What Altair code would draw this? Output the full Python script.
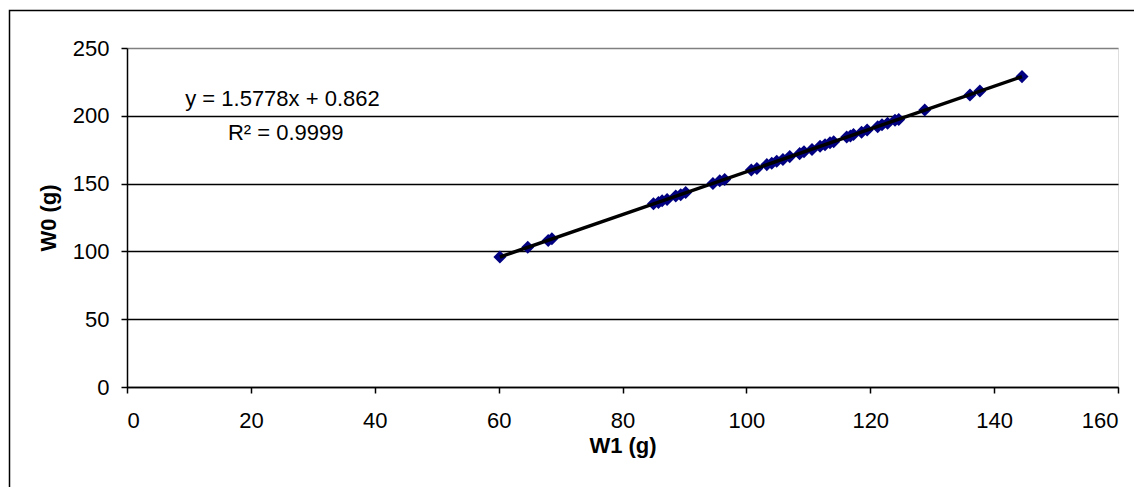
import altair as alt
import pandas as pd

# Data
w1 = [60.2, 64.7, 68.0, 68.6, 85.0, 85.8, 86.4, 87.2, 88.6, 89.4, 90.2, 94.6,
      95.7, 96.5, 100.8, 101.7, 103.3, 104.1, 104.9, 105.9, 107.0, 108.6, 109.3,
      110.6, 111.9, 112.7, 113.5, 114.1, 116.2, 116.8, 117.3, 118.6, 119.5,
      121.2, 121.9, 122.8, 124.0, 124.6, 128.8, 136.1, 137.7, 144.5]
w0 = [95.8, 103.1, 108.0, 109.3, 135.2, 136.0, 137.4, 138.3, 140.9, 141.7, 143.4, 150.0,
      152.1, 153.0, 160.1, 161.2, 164.0, 165.0, 166.5, 167.8, 169.9, 172.1, 173.5,
      175.2, 177.6, 178.6, 180.1, 180.8, 184.4, 185.1, 186.2, 187.9, 189.6,
      192.0, 193.4, 194.5, 196.7, 197.3, 204.3, 215.4, 218.3, 228.9]

eq_text = ["y = 1.5778x + 0.862", "R\u00b2 = 0.9999"]
eq_x = [9.4, 16.3]
eq_y = [206.9, 182.5]

x_ticks = [0, 20, 40, 60, 80, 100, 120, 140, 160]
y_ticks = [0, 50, 100, 150, 200, 250]

FONT = "Liberation Sans"

df = pd.DataFrame({"W1": w1, "W0": w0})
eq_df = pd.DataFrame({"t": eq_text, "x": eq_x, "y": eq_y})

xscale = alt.Scale(domain=[0, 160], nice=False, zero=True)
yscale = alt.Scale(domain=[0, 250], nice=False, zero=True)

xaxis = alt.Axis(values=x_ticks, grid=False, title="W1 (g)",
                 domainColor="black", domainWidth=1.5, tickColor="black", tickSize=6,
                 tickWidth=1.5, labelFont=FONT, labelFontSize=22, labelColor="black",
                 labelPadding=17, titleFont=FONT, titleFontSize=22,
                 titleFontWeight="bold", titleColor="black", titlePadding=4)
yaxis = alt.Axis(values=y_ticks, grid=True,
                 gridColor=alt.condition("datum.value == 250", alt.value("#808080"), alt.value("black")),
                 gridWidth=1.5, title="W0 (g)",
                 domainColor="black", domainWidth=1.5, tickColor="black", tickSize=6,
                 tickWidth=1.5, labelFont=FONT, labelFontSize=22, labelColor="black",
                 labelPadding=12, titleFont=FONT, titleFontSize=22,
                 titleFontWeight="bold", titleColor="black", titlePadding=12)

border = alt.Chart(alt.Data(values=[{"a": 1}])).mark_rect(
    fill="transparent", stroke="black", strokeWidth=1.5
).encode(x=alt.value(-117.5), x2=alt.value(1300), y=alt.value(-37.5), y2=alt.value(700))

base = alt.Chart(df)
points = base.mark_point(shape="diamond", filled=True, color="#000080", size=170, opacity=1).encode(
    x=alt.X("W1:Q", scale=xscale, axis=xaxis),
    y=alt.Y("W0:Q", scale=yscale, axis=yaxis),
)
trend = base.transform_regression("W1", "W0").mark_line(color="black", strokeWidth=3.5).encode(
    x=alt.X("W1:Q", scale=xscale),
    y=alt.Y("W0:Q", scale=yscale),
)
eq = alt.Chart(eq_df).mark_text(font=FONT, fontSize=22, color="black", align="left",
                                baseline="alphabetic").encode(
    x=alt.X("x:Q", scale=xscale), y=alt.Y("y:Q", scale=yscale), text="t:N"
)

chart = alt.layer(border, points, trend, eq).properties(
    width=991, height=339,
    autosize=alt.AutoSizeParams(type="none"),
    padding={"left": 119, "top": 40, "right": 16, "bottom": 100},
).configure_view(stroke="#808080", strokeWidth=1.5).configure(background="white")

chart.save("out.html", embed_options={"renderer": "svg", "actions": False})
